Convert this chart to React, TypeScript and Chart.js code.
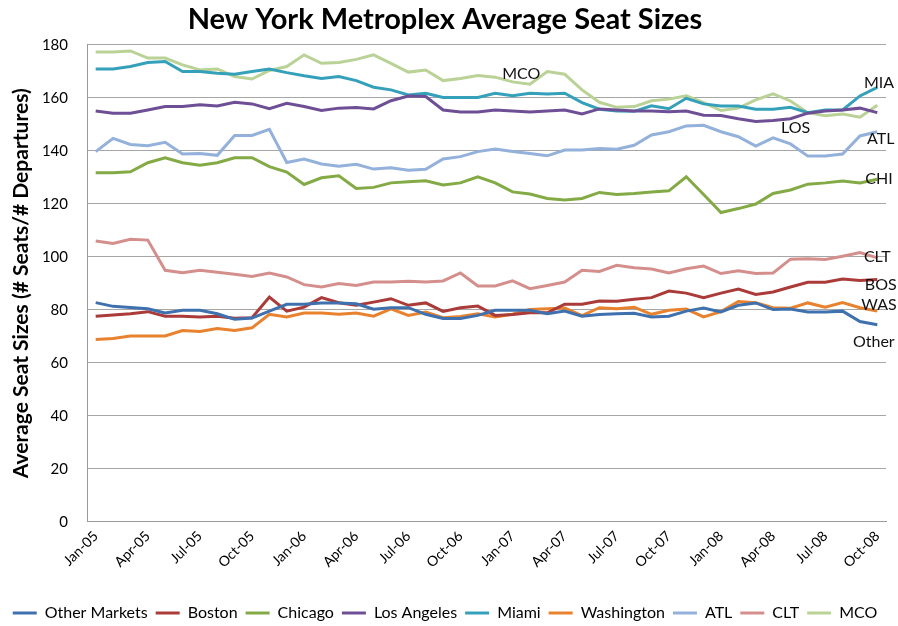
import React, { useEffect, useRef } from "react";
import { Chart, registerables } from "chart.js";

Chart.register(...registerables);

const months = [
  "Jan-05", "Feb-05", "Mar-05", "Apr-05", "May-05", "Jun-05", "Jul-05", "Aug-05", "Sep-05", "Oct-05", "Nov-05", "Dec-05",
  "Jan-06", "Feb-06", "Mar-06", "Apr-06", "May-06", "Jun-06", "Jul-06", "Aug-06", "Sep-06", "Oct-06", "Nov-06", "Dec-06",
  "Jan-07", "Feb-07", "Mar-07", "Apr-07", "May-07", "Jun-07", "Jul-07", "Aug-07", "Sep-07", "Oct-07", "Nov-07", "Dec-07",
  "Jan-08", "Feb-08", "Mar-08", "Apr-08", "May-08", "Jun-08", "Jul-08", "Aug-08", "Sep-08", "Oct-08",
];

const otherMarkets = [82.7, 81.3, 80.9, 80.4, 78.8, 79.8, 79.8, 78.5, 76.4, 76.9, 79.5, 82.1, 82.1, 82.6, 82.6, 82.3, 80.2, 80.8, 80.8, 78.3, 76.7, 76.7, 77.9, 79.8, 79.8, 79.8, 78.5, 79.5, 77.6, 78.2, 78.5, 78.7, 77.3, 77.6, 79.5, 80.7, 79.2, 81.7, 82.6, 80.1, 80.3, 79.2, 79.2, 79.5, 75.6, 74.4];
const boston = [77.6, 78.0, 78.5, 79.3, 77.6, 77.6, 77.3, 77.6, 76.8, 77.0, 84.8, 79.5, 81.0, 84.6, 82.7, 81.7, 82.9, 84.2, 81.7, 82.6, 79.4, 80.8, 81.4, 77.9, 78.2, 78.9, 78.9, 82.1, 82.1, 83.3, 83.2, 84.0, 84.6, 87.1, 86.3, 84.6, 86.3, 87.8, 85.8, 86.7, 88.6, 90.4, 90.4, 91.6, 91.1, 91.4];
const chicago = [131.7, 131.7, 132.1, 135.5, 137.4, 135.5, 134.6, 135.5, 137.4, 137.4, 134.0, 132.0, 127.3, 129.8, 130.6, 125.8, 126.2, 127.9, 128.3, 128.7, 127.1, 127.9, 130.2, 127.9, 124.5, 123.7, 122.0, 121.4, 122.0, 124.3, 123.5, 123.9, 124.5, 124.9, 130.2, 123.5, 116.7, 118.2, 119.9, 123.9, 125.2, 127.4, 127.9, 128.6, 127.9, 129.3];
const losAngeles = [155.0, 154.2, 154.2, 155.4, 156.7, 156.7, 157.4, 156.9, 158.3, 157.7, 155.9, 157.9, 156.7, 155.2, 156.1, 156.3, 155.8, 158.9, 160.7, 160.5, 155.4, 154.6, 154.6, 155.4, 155.0, 154.6, 155.0, 155.4, 153.9, 155.8, 155.4, 155.0, 155.0, 154.7, 155.0, 153.4, 153.3, 152.1, 151.1, 151.4, 152.1, 154.2, 155.0, 155.4, 156.1, 154.4];
const miami = [170.9, 170.9, 171.8, 173.3, 173.7, 169.9, 169.9, 169.3, 168.9, 169.9, 170.9, 169.5, 168.3, 167.3, 168.0, 166.5, 164.0, 163.0, 161.1, 161.7, 160.1, 160.1, 160.1, 161.7, 160.8, 161.7, 161.4, 161.7, 158.2, 155.7, 155.0, 154.9, 157.0, 155.9, 159.8, 157.7, 156.9, 156.9, 155.7, 155.7, 156.4, 154.4, 155.4, 155.4, 160.7, 163.9];
const washington = [68.8, 69.2, 70.1, 70.1, 70.1, 72.2, 71.8, 72.9, 72.2, 73.2, 78.3, 77.3, 78.8, 78.8, 78.3, 78.8, 77.6, 80.4, 77.9, 79.2, 77.0, 77.5, 78.5, 77.3, 78.3, 80.1, 80.4, 80.7, 77.8, 80.8, 80.4, 81.0, 78.3, 79.8, 80.3, 77.3, 79.3, 83.1, 82.7, 80.8, 80.6, 82.6, 81.0, 82.7, 80.8, 79.5];
const atl = [139.7, 144.7, 142.4, 141.9, 143.2, 138.8, 139.0, 138.3, 145.8, 145.8, 148.1, 135.6, 136.9, 135.0, 134.2, 134.9, 133.1, 133.6, 132.7, 133.0, 136.9, 137.8, 139.7, 140.7, 139.7, 139.0, 138.1, 140.3, 140.3, 140.9, 140.6, 142.1, 146.0, 147.2, 149.4, 149.6, 147.2, 145.3, 141.8, 144.9, 142.6, 138.0, 138.0, 138.8, 145.6, 147.2];
const clt = [106.0, 105.0, 106.6, 106.3, 94.9, 94.0, 94.9, 94.2, 93.4, 92.6, 93.9, 92.4, 89.5, 88.6, 89.9, 89.2, 90.5, 90.5, 90.8, 90.5, 90.9, 93.9, 89.0, 89.0, 90.9, 88.0, 89.2, 90.5, 94.9, 94.5, 96.8, 95.9, 95.4, 93.9, 95.5, 96.5, 93.7, 94.7, 93.7, 93.9, 99.1, 99.3, 99.0, 100.2, 101.6, 99.6];
const mco = [177.3, 177.3, 177.7, 175.0, 175.0, 172.4, 170.5, 170.9, 168.0, 167.1, 170.3, 171.8, 176.2, 173.0, 173.3, 174.5, 176.2, 173.0, 169.7, 170.5, 166.5, 167.3, 168.4, 167.8, 166.0, 165.1, 169.9, 168.9, 163.0, 158.3, 156.4, 156.7, 158.9, 159.5, 160.8, 158.2, 155.2, 156.1, 159.2, 161.5, 158.8, 154.4, 153.2, 153.9, 152.7, 157.2];

const seriesNames = ["Other Markets", "Boston", "Chicago", "Los Angeles", "Miami", "Washington", "ATL", "CLT", "MCO"];
const seriesValues = [otherMarkets, boston, chicago, losAngeles, miami, washington, atl, clt, mco];
const seriesColors = ["#3F71AE", "#AA3B38", "#83AA44", "#6E4F95", "#35A0BA", "#E8822F", "#93B1DA", "#D48F8D", "#BAD296"];

// Tags drawn next to lines: text, category position, value
const tagTexts = ["MCO", "MIA", "LOS", "ATL", "CHI", "CLT", "BOS", "WAS", "Other"];
const tagIndex = [24.5, 45.1, 40.3, 45.2, 45.1, 45.0, 45.2, 45.1, 44.8];
const tagValue = [169, 165.6, 148.6, 144.5, 129.3, 99.8, 89.6, 81.7, 68.1];

const FONT = "Lato";

const tagPlugin = {
  id: "seriesTags",
  afterDatasetsDraw(chart: any) {
    const { ctx, scales } = chart;
    ctx.save();
    ctx.font = `16px ${FONT}`;
    ctx.fillStyle = "#111";
    ctx.textAlign = "center";
    ctx.textBaseline = "middle";
    tagTexts.forEach((t, i) => {
      const x = scales.x.getPixelForValue(tagIndex[i]);
      const y = scales.y.getPixelForValue(tagValue[i]);
      ctx.fillText(t, x, y);
    });
    ctx.restore();
  },
};

export default function App() {
  const ref = useRef<HTMLCanvasElement | null>(null);
  useEffect(() => {
    if (!ref.current) return;
    const chart = new Chart(ref.current, {
      type: "line",
      data: {
        labels: months,
        datasets: seriesNames.map((name, i) => ({
          label: name,
          data: seriesValues[i],
          borderColor: seriesColors[i],
          backgroundColor: seriesColors[i],
          borderWidth: 3,
          pointRadius: 0,
          tension: 0,
          fill: false,
        })),
      },
      options: {
        responsive: false,
        animation: false,
        layout: { padding: { left: 4, right: 12, top: 0, bottom: -5 } },
        font: { family: FONT },
        plugins: {
          title: {
            display: true,
            text: "New York Metroplex Average Seat Sizes",
            color: "#000",
            font: { family: FONT, size: 29, weight: "bold" },
            padding: { top: 2, bottom: 8 },
          },
          legend: {
            position: "bottom",
            labels: {
              color: "#000",
              font: { family: FONT, size: 16 },
              usePointStyle: true,
              pointStyle: "line",
              pointStyleWidth: 24,
              padding: 8,
            },
          },
          tooltip: { enabled: false },
        },
        scales: {
          x: {
            offset: true,
            grid: { display: false, drawTicks: false },
            border: { color: "#999", width: 1 },
            afterFit: (scale: any) => {
              scale.height += 20;
            },
            ticks: {
              autoSkip: false,
              minRotation: 45,
              maxRotation: 45,
              color: "#000",
              font: { family: FONT, size: 14 },
              padding: 6,
              callback: (v: any, idx: number) => (idx % 3 === 0 ? months[idx] : null),
            },
          },
          y: {
            min: 0,
            max: 180,
            grid: { color: "#A6A6A6", drawTicks: false },
            border: { color: "#999", width: 1 },
            afterFit: (scale: any) => {
              scale.width = 83;
            },
            ticks: {
              stepSize: 20,
              color: "#000",
              font: { family: FONT, size: 15 },
              padding: 19,
            },
            title: {
              display: true,
              text: "Average Seat Sizes (# Seats/# Departures)",
              color: "#000",
              font: { family: FONT, size: 21, weight: "bold" },
              padding: { top: 5, bottom: 6 },
            },
          },
        },
      },
      plugins: [tagPlugin],
    });
    return () => chart.destroy();
  }, []);
  return (
    <div style={{ position: "fixed", left: 0, top: 0, width: 898, height: 626, background: "#fff" }}>
      <canvas ref={ref} width={898} height={626} />
    </div>
  );
}
